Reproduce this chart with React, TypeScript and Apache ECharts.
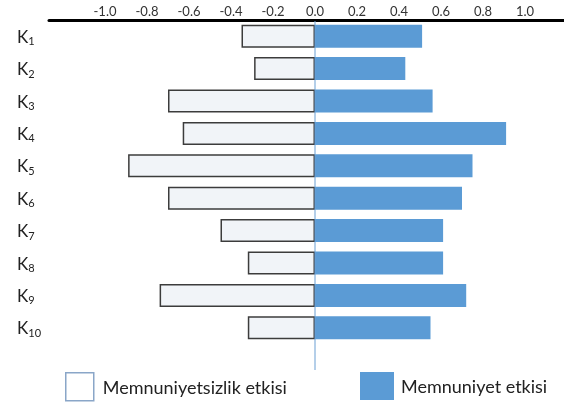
import React, { useEffect, useRef } from "react";
import * as echarts from "echarts";

const categories = ["1", "2", "3", "4", "5", "6", "7", "8", "9", "10"];
const dissatisfaction = [-0.35, -0.29, -0.70, -0.63, -0.89, -0.70, -0.45, -0.32, -0.74, -0.32];
const satisfaction = [0.51, 0.43, 0.56, 0.91, 0.75, 0.70, 0.61, 0.61, 0.72, 0.55];
const tickValues = [-1.0, -0.8, -0.6, -0.4, -0.2, 0.0, 0.2, 0.4, 0.6, 0.8, 1.0];
const seriesNames = ["Memnuniyetsizlik etkisi", "Memnuniyet etkisi"];

const FONT = "Lato, 'Open Sans', sans-serif";

export default function App() {
  const ref = useRef<HTMLDivElement>(null);
  useEffect(() => {
    if (!ref.current) return;
    const chart = echarts.init(ref.current, null, { renderer: "svg" });
    chart.setOption({
      animation: false,
      textStyle: { fontFamily: FONT },
      grid: { left: 49, right: 0, top: 20, bottom: 59, containLabel: false },
      xAxis: {
        type: "value",
        position: "top",
        min: -1.2667,
        max: 1.1857,
        axisLine: { show: true, lineStyle: { color: "#000", width: 3 } },
        axisTick: { show: false },
        splitLine: { show: false },
        axisLabel: {
          customValues: tickValues,
          margin: 3,
          fontSize: 13,
          color: "#333",
          fontFamily: FONT,
          formatter: (v: number) => (Math.abs(v) < 1e-9 ? 0 : v).toFixed(1),
        },
      },
      yAxis: {
        type: "category",
        inverse: true,
        data: categories,
        axisLine: { show: false, onZero: false },
        axisTick: { show: false },
        axisLabel: {
          align: "left",
          margin: 32,
          formatter: (v: string) => `{k|K}{s|${v}}`,
          rich: {
            k: { fontSize: 17, color: "#222", fontFamily: FONT },
            s: { fontSize: 11, color: "#222", fontFamily: FONT, padding: [9, 0, 0, 0] },
          },
        },
      },
      legend: [
        {
          data: [
            {
              name: seriesNames[0],
              itemStyle: { color: "#ffffff", borderColor: "#8aa6c8", borderWidth: 1.5 },
            },
          ],
          left: 65,
          top: 372,
          padding: 0,
          icon: "rect",
          itemWidth: 28,
          itemHeight: 28,
          textStyle: { fontSize: 18, color: "#222", fontFamily: FONT, padding: [0, 0, 0, 4] },
        },
        {
          data: [{ name: seriesNames[1] }],
          left: 360,
          top: 372,
          padding: 0,
          icon: "rect",
          itemWidth: 34,
          itemHeight: 28,
          textStyle: { fontSize: 18, color: "#222", fontFamily: FONT, padding: [0, 0, 0, 2] },
        },
      ],
      series: [
        {
          name: seriesNames[0],
          type: "bar",
          stack: "total",
          barWidth: 23,
          data: dissatisfaction,
          itemStyle: { color: "#f1f4f8", borderColor: "#3c3c3c", borderWidth: 1.5 },
        },
        {
          name: seriesNames[1],
          type: "bar",
          stack: "total",
          barWidth: 23,
          data: satisfaction,
          itemStyle: { color: "#5b9bd5" },
        },
      ],
    });
    const x0 = chart.convertToPixel({ xAxisIndex: 0 }, 0) as number;
    chart.setOption({
      graphic: [
        {
          type: "line",
          shape: { x1: x0, y1: 21, x2: x0, y2: 370 },
          style: { stroke: "#6a9fd3", lineWidth: 1 },
          z: 10,
        },
      ],
    });
    return () => chart.dispose();
  }, []);
  return (
    <div
      ref={ref}
      style={{ position: "fixed", left: 0, top: 0, width: 564, height: 403 }}
    />
  );
}
